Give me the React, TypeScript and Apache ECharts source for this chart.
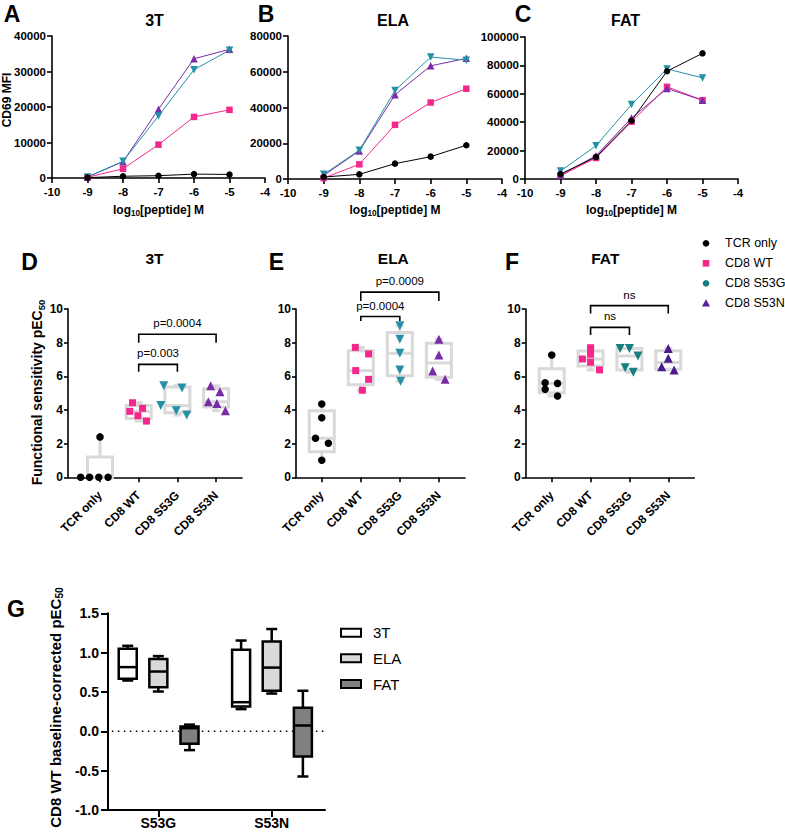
import React, { useEffect, useRef } from 'react';
import * as echarts from 'echarts';

// ---------------- DATA ----------------
const DOSES = [-9, -8, -7, -6, -5];
const GROUPS = ['TCR only', 'CD8 WT', 'CD8 S53G', 'CD8 S53N'];
const PEPTIDES = ['3T', 'ELA', 'FAT'];

// Row 1: CD69 MFI vs log10[peptide]
const MFI_3T_TCR = [100, 500, 650, 1100, 1000];
const MFI_3T_WT = [200, 2600, 9400, 17200, 19200];
const MFI_3T_S53G = [300, 4700, 17500, 30500, 36000];
const MFI_3T_S53N = [300, 4600, 19400, 33600, 36250];
const MFI_ELA_TCR = [1100, 2600, 8600, 12500, 18900];
const MFI_ELA_WT = [500, 8200, 30300, 42800, 50500];
const MFI_ELA_S53G = [2600, 16100, 49500, 68200, 66500];
const MFI_ELA_S53N = [2000, 15700, 47100, 63300, 67500];
const MFI_FAT_TCR = [3500, 15500, 41000, 75900, 88500];
const MFI_FAT_WT = [2300, 14800, 40300, 64900, 55500];
const MFI_FAT_S53G = [5600, 23400, 52500, 77500, 71200];
const MFI_FAT_S53N = [2800, 16400, 42900, 63700, 55500];
const MFI_AXIS_MAX = [40000, 80000, 100000];
const MFI_AXIS_STEP = [10000, 20000, 20000];

// Row 2: functional sensitivity pEC50 per replicate
const PEC_3T_TCR = [0, 0, 0, 0, 2.4];
const PEC_3T_WT = [4.43, 3.92, 4.1, 3.66, 3.34];
const PEC_3T_S53G = [5.44, 5.3, 4.26, 3.96, 3.7];
const PEC_3T_S53N = [5.44, 5.09, 4.49, 4.39, 3.96];
const PEC_ELA_TCR = [4.36, 3.54, 2.32, 2.02, 1.01];
const PEC_ELA_WT = [7.72, 7.33, 6.34, 5.82, 5.17];
const PEC_ELA_S53G = [9.0, 8.2, 7.37, 6.38, 5.7];
const PEC_ELA_S53N = [8.2, 7.27, 6.32, 5.82];
const PEC_FAT_TCR = [7.27, 5.62, 5.58, 5.23, 4.83];
const PEC_FAT_WT = [7.7, 7.31, 7.03, 6.84, 6.38];
const PEC_FAT_S53G = [7.66, 7.66, 7.21, 6.51, 6.24];
const PEC_FAT_S53N = [7.66, 7.07, 6.57, 6.38];

// Significance brackets: [from group, to group, bracket top, leg bottom]
const BRACKETS_3T = [[1, 2, 6.71, 6.27], [1, 3, 8.5, 8.0]];
const BRACKET_LABELS_3T = ['p=0.003', 'p=0.0004'];
const BRACKETS_ELA = [[1, 2, 9.55, 9.29], [1, 3, 11.0, 10.47]];
const BRACKET_LABELS_ELA = ['p=0.0004', 'p=0.0009'];
const BRACKETS_FAT = [[1, 2, 8.91, 8.46], [1, 3, 10.2, 9.74]];
const BRACKET_LABELS_FAT = ['ns', 'ns'];

// Row 3: CD8 WT baseline-corrected pEC50, [min, Q1, median, Q3, max] per category
const G_CATEGORIES = ['S53G', 'S53N'];
const G_SERIES = ['3T', 'ELA', 'FAT'];
const G_3T = [[0.646, 0.667, 0.816, 1.049, 1.087], [0.282, 0.316, 0.37, 1.036, 1.154]];
const G_ELA = [[0.506, 0.56, 0.76, 0.918, 0.956], [0.48, 0.515, 0.81, 1.14, 1.3]];
const G_FAT = [[-0.239, -0.159, 0.04, 0.06, 0.085], [-0.574, -0.32, 0.074, 0.3, 0.515]];

// ---------------- LAYOUT / STYLE ----------------
const FONT = '"Liberation Sans", Arial, Helvetica, sans-serif';
const COLORS = ['#000000', '#F5278C', '#2591A7', '#7A2BA6'];
const COLORS_F = ['#000000', '#F5278C', '#17807F', '#4B1A8C'];
const SYMBOLS = ['circle', 'rect', 'triangle', 'triangle'];
const SYMBOL_ROT = [0, 0, 180, 0];
const SIZE_ROW1 = [6.5, 6.5, 7.5, 7.5];
const SIZE_ROW2 = [7.5, 7, 9, 9];

const GRID_ROW1 = [
  { left: 52, top: 36, width: 213, height: 142 },
  { left: 288, top: 36, width: 214, height: 143 },
  { left: 525, top: 37, width: 213, height: 142 },
];
const GRID_ROW2 = [
  { left: 68, top: 309, width: 174, height: 168.3 },
  { left: 296, top: 309, width: 169, height: 168.3 },
  { left: 525.7, top: 309, width: 168.6, height: 168.3 },
];
const X_EXTENT_ROW2 = [[-0.827, 3.67], [-0.66, 3.67], [-0.67, 3.67]];
const GRID_G = { left: 108, top: 613.3, width: 217, height: 196.7 };
const X_EXTENT_G = [-0.444, 1.47];
const G_OFFSETS = [-0.27, 0, 0.275];
const G_FILLS = ['#FFFFFF', '#D9D9D9', '#808080'];

const JITTER = [
  [[-0.5, -0.27, -0.03, 0.21, 0], [-0.16, -0.23, 0.1, -0.02, 0.2], [-0.35, 0.12, -0.43, -0.03, 0.24], [-0.14, 0.1, -0.2, 0.02, 0.24]],
  [[0, 0, -0.16, 0.17, 0], [-0.14, 0.2, -0.13, 0.2, 0.04], [0, 0, 0, 0, 0.02], [0, 0, -0.16, 0.16]],
  [[0, -0.17, 0.15, -0.17, 0.15], [0, 0, -0.21, 0, 0.23], [-0.24, 0, 0.22, -0.11, 0.1], [0, 0, -0.17, 0.15]],
];

// ---------------- HELPERS ----------------
function quantile(sorted: number[], p: number) {
  const n = sorted.length;
  const pos = p * (n + 1) - 1;
  const lo = Math.max(0, Math.min(n - 1, Math.floor(pos)));
  const hi = Math.max(0, Math.min(n - 1, Math.ceil(pos)));
  const frac = pos - Math.floor(pos);
  return sorted[lo] + (sorted[hi] - sorted[lo]) * frac;
}
function summary(vals: number[]) {
  const s = [...vals].sort((a, b) => a - b);
  return [s[0], quantile(s, 0.25), quantile(s, 0.5), quantile(s, 0.75), s[s.length - 1]];
}

const makeBoxRender = (halfW: number, capHalf: number, stroke: string, lineWidth: number, fill: string) =>
  (params: any, api: any) => {
    const x = api.value(0);
    const c = (v: number) => api.coord([x, v]);
    const [cx, yMin] = c(api.value(1));
    const yQ1 = c(api.value(2))[1];
    const yMed = c(api.value(3))[1];
    const yQ3 = c(api.value(4))[1];
    const yMax = c(api.value(5))[1];
    const st = { stroke, lineWidth, fill: 'none' };
    return {
      type: 'group',
      children: [
        { type: 'line', shape: { x1: cx, y1: yQ3, x2: cx, y2: yMax }, style: st },
        { type: 'line', shape: { x1: cx, y1: yQ1, x2: cx, y2: yMin }, style: st },
        { type: 'line', shape: { x1: cx - capHalf, y1: yMax, x2: cx + capHalf, y2: yMax }, style: st },
        { type: 'line', shape: { x1: cx - capHalf, y1: yMin, x2: cx + capHalf, y2: yMin }, style: st },
        { type: 'rect', shape: { x: cx - halfW, y: yQ3, width: 2 * halfW, height: yQ1 - yQ3 }, style: { stroke, lineWidth, fill } },
        { type: 'line', shape: { x1: cx - halfW, y1: yMed, x2: cx + halfW, y2: yMed }, style: st },
      ],
    };
  };

const makeBracketRender = (labels: string[]) => (params: any, api: any) => {
  const p1 = api.coord([api.value(0), api.value(2)]);
  const p2 = api.coord([api.value(1), api.value(2)]);
  const legY = api.coord([api.value(0), api.value(3)])[1];
  return {
    type: 'group',
    children: [
      {
        type: 'polyline',
        shape: { points: [[p1[0], legY], [p1[0], p1[1]], [p2[0], p2[1]], [p2[0], legY]] },
        style: { stroke: '#000', lineWidth: 1.6, fill: 'none' },
      },
      {
        type: 'text',
        x: (p1[0] + p2[0]) / 2,
        y: p1[1] - 11,
        style: {
          text: labels[params.dataIndex], fill: '#000', fontSize: 11.5, fontFamily: FONT,
          align: 'center', verticalAlign: 'middle',
        },
      },
    ],
  };
};

const axisBase = (gridIndex: number, fontSize: number, lw: number, tickLen: number, margin: number) => ({
  gridIndex,
  axisLine: { show: true, onZero: false, lineStyle: { color: '#000', width: lw } },
  axisTick: { show: true, length: tickLen, lineStyle: { color: '#000', width: lw } },
  axisLabel: { color: '#000', fontFamily: FONT, fontWeight: 'bold', fontSize, margin },
  splitLine: { show: false },
});

export default function App() {
  const ref = useRef<HTMLDivElement>(null);
  useEffect(() => {
    if (!ref.current) return;
    const chart = echarts.init(ref.current, null, { renderer: 'svg' });

    const MFI = [
      [MFI_3T_TCR, MFI_3T_WT, MFI_3T_S53G, MFI_3T_S53N],
      [MFI_ELA_TCR, MFI_ELA_WT, MFI_ELA_S53G, MFI_ELA_S53N],
      [MFI_FAT_TCR, MFI_FAT_WT, MFI_FAT_S53G, MFI_FAT_S53N],
    ];
    const PEC = [
      [PEC_3T_TCR, PEC_3T_WT, PEC_3T_S53G, PEC_3T_S53N],
      [PEC_ELA_TCR, PEC_ELA_WT, PEC_ELA_S53G, PEC_ELA_S53N],
      [PEC_FAT_TCR, PEC_FAT_WT, PEC_FAT_S53G, PEC_FAT_S53N],
    ];
    const BRACKETS = [BRACKETS_3T, BRACKETS_ELA, BRACKETS_FAT];
    const BRACKET_LABELS = [BRACKET_LABELS_3T, BRACKET_LABELS_ELA, BRACKET_LABELS_FAT];
    const G_DATA = [G_3T, G_ELA, G_FAT];

    const grids: any[] = [...GRID_ROW1, ...GRID_ROW2, GRID_G];
    const xAxes: any[] = [];
    const yAxes: any[] = [];
    const series: any[] = [];

    // Row 1
    for (let p = 0; p < 3; p++) {
      const xb = axisBase(p, 11.5, 1.6, 5, 8);
      xAxes.push({
        ...xb, type: 'value', min: -10, max: -4, interval: 1,
        axisLabel: { ...xb.axisLabel, formatter: (v: number) => String(v) },
      });
      const yb = axisBase(p, 11.5, 1.6, 5, 6);
      yAxes.push({
        ...yb, type: 'value', min: 0, max: MFI_AXIS_MAX[p], interval: MFI_AXIS_STEP[p],
        axisLabel: { ...yb.axisLabel, formatter: (v: number) => String(v) },
      });
      const order = [1, 3, 2, 0];
      order.forEach((g) => {
        series.push({
          type: 'line', name: GROUPS[g], xAxisIndex: p, yAxisIndex: p,
          data: DOSES.map((d, i) => [d, MFI[p][g][i]]),
          symbol: SYMBOLS[g], symbolRotate: SYMBOL_ROT[g], symbolSize: SIZE_ROW1[g],
          lineStyle: { color: COLORS[g], width: 1 }, itemStyle: { color: COLORS[g], opacity: 1 },
          showAllSymbol: true, z: 3,
        });
      });
    }

    // Row 2
    for (let p = 0; p < 3; p++) {
      const gi = 3 + p;
      const ax = p + 3;
      const base = axisBase(gi, 12, 1.6, 5, 16);
      xAxes.push({
        ...base, type: 'value', min: X_EXTENT_ROW2[p][0], max: X_EXTENT_ROW2[p][1],
        axisTick: { ...base.axisTick, customValues: [0, 1, 2, 3] },
        axisLabel: {
          ...base.axisLabel, rotate: 45, customValues: [0, 1, 2, 3],
          formatter: (v: number) => GROUPS[Math.round(v)] ?? '',
        },
      });
      const yb = axisBase(gi, 12, 1.6, 4, 5);
      yAxes.push({ ...yb, type: 'value', min: 0, max: 10, interval: 2 });
      const cols = p === 2 ? COLORS_F : COLORS;
      series.push({
        type: 'custom', xAxisIndex: ax, yAxisIndex: ax, clip: false, z: 2,
        renderItem: makeBoxRender(12.5, 4, '#D9D9D9', 3, 'none'),
        encode: { x: 0, y: [1, 2, 3, 4, 5] },
        data: PEC[p].map((vals, g) => [g, ...summary(vals)]),
      });
      for (let g = 0; g < 4; g++) {
        series.push({
          type: 'scatter', name: GROUPS[g], xAxisIndex: ax, yAxisIndex: ax, z: 4,
          symbol: SYMBOLS[g], symbolRotate: SYMBOL_ROT[g], symbolSize: SIZE_ROW2[g],
          itemStyle: { color: cols[g], opacity: 1 },
          data: PEC[p][g].map((v, i) => [g + JITTER[p][g][i], v]),
        });
      }
      series.push({
        type: 'custom', xAxisIndex: ax, yAxisIndex: ax, clip: false, z: 5,
        renderItem: makeBracketRender(BRACKET_LABELS[p]),
        encode: { x: [0, 1], y: [2, 3] },
        data: BRACKETS[p],
      });
    }

    // Row 3 (panel G)
    const gb = axisBase(6, 14, 2, 7, 6);
    xAxes.push({
      ...gb, type: 'value', min: X_EXTENT_G[0], max: X_EXTENT_G[1],
      axisTick: { ...gb.axisTick, customValues: [0, 1] },
      axisLabel: { ...gb.axisLabel, customValues: [0, 1], formatter: (v: number) => G_CATEGORIES[Math.round(v)] ?? '' },
    });
    const gy = axisBase(6, 14, 2, 7, 9);
    yAxes.push({
      ...gy, type: 'value', min: -1, max: 1.5, interval: 0.5,
      axisLabel: { ...gy.axisLabel, formatter: (v: number) => v.toFixed(1) },
    });
    series.push({
      type: 'line', xAxisIndex: 6, yAxisIndex: 6, showSymbol: false, silent: true, z: 1,
      data: [[-0.41, 0], [1.46, 0]],
      lineStyle: { color: '#000', width: 1.5, type: [1.5, 4.5] },
    });
    G_SERIES.forEach((name, s) => {
      series.push({
        type: 'custom', name, xAxisIndex: 6, yAxisIndex: 6, clip: false, z: 3,
        renderItem: makeBoxRender(9, 5.5, '#000', 2.5, G_FILLS[s]),
        encode: { x: 0, y: [1, 2, 3, 4, 5] },
        data: G_CATEGORIES.map((c, ci) => [ci + G_OFFSETS[s], ...G_DATA[s][ci]]),
      });
    });

    // Graphic texts and legends
    const txt = (text: string, x: number, y: number, size: number, bold = true, extra: any = {}) => ({
      type: 'text', x, y, ...extra,
      style: {
        text, fill: '#000', fontSize: size, fontFamily: FONT, fontWeight: bold ? 'bold' : 'normal',
        align: extra.align ?? 'center', verticalAlign: 'middle',
      },
    });
    const subText = (main1: string, sub: string, main2: string, x: number, y: number, size: number, rot: number) => ({
      type: 'text', x, y, rotation: rot,
      style: {
        text: `{a|${main1}}{s|${sub}}` + (main2 ? `{a|${main2}}` : ''),
        align: 'center', verticalAlign: 'middle',
        rich: {
          a: { fontSize: size, fontWeight: 'bold', fontFamily: FONT, fill: '#000', lineHeight: size + 4, verticalAlign: 'middle' },
          s: { fontSize: size * 0.68, fontWeight: 'bold', fontFamily: FONT, fill: '#000', lineHeight: size * 0.68, verticalAlign: 'bottom' },
        },
      },
    });

    const letters = [['A', 12, 14], ['B', 266, 14], ['C', 523, 14], ['D', 29.5, 262], ['E', 276.5, 262], ['F', 512, 262], ['G', 16, 609]];
    const graphics: any[] = letters.map(([t, x, y]) => txt(t as string, x as number, y as number, 23));
    const titlePos1 = [154.5, 393, 625.5];
    const titlePos2 = [154.5, 393.3, 605.3];
    PEPTIDES.forEach((t, i) => {
      graphics.push(txt(t, titlePos1[i], 20.5, 16));
      graphics.push(txt(t, titlePos2[i], 258.5, 15.5));
    });
    // axis titles
    graphics.push(txt('CD69 MFI', 6.5, 100, 12, true, { rotation: Math.PI / 2 }));
    GRID_ROW1.forEach((g) => {
      graphics.push(subText('log', '10', '[peptide] M', g.left + g.width / 2, 209.5, 12, 0));
    });
    graphics.push(subText('Functional sensitivity pEC', '50', '', 37, 392.5, 14, Math.PI / 2));
    graphics.push(subText('CD8 WT baseline-corrected pEC', '50', '', 55, 707.5, 15, Math.PI / 2));

    // Row 2 legend
    const legY = [243.3, 263.3, 283.3, 303.3];
    const lx = 706;
    graphics.push({ type: 'circle', shape: { cx: lx, cy: legY[0], r: 3.3 }, style: { fill: COLORS_F[0] } });
    graphics.push({ type: 'rect', shape: { x: lx - 3.3, y: legY[1] - 3.3, width: 6.6, height: 6.6 }, style: { fill: COLORS_F[1] } });
    graphics.push({ type: 'circle', shape: { cx: lx, cy: legY[2], r: 3.3 }, style: { fill: COLORS_F[2] } });
    graphics.push({
      type: 'polygon',
      shape: { points: [[lx, legY[3] - 4], [lx + 4, legY[3] + 3.2], [lx - 4, legY[3] + 3.2]] },
      style: { fill: '#5A1E96' },
    });
    GROUPS.forEach((g, i) => graphics.push(txt(g, 725, legY[i], 12.5, false, { align: 'left' })));

    // Panel G legend
    const gLegY = [632.7, 658.3, 684];
    G_SERIES.forEach((s, i) => {
      graphics.push({
        type: 'rect', shape: { x: 341, y: gLegY[i] - 4, width: 20, height: 8 },
        style: { fill: G_FILLS[i], stroke: '#000', lineWidth: 2 },
      });
      graphics.push(txt(s, 373, gLegY[i], 15, false, { align: 'left' }));
    });

    chart.setOption({
      animation: false,
      backgroundColor: '#FFFFFF',
      textStyle: { fontFamily: FONT },
      grid: grids.map((g) => ({ ...g, containLabel: false })),
      xAxis: xAxes,
      yAxis: yAxes,
      series,
      graphic: graphics,
    });
    return () => chart.dispose();
  }, []);

  return (
    <div
      ref={ref}
      style={{ position: 'absolute', left: 0, top: 0, width: 785, height: 837, background: '#fff' }}
    />
  );
}
